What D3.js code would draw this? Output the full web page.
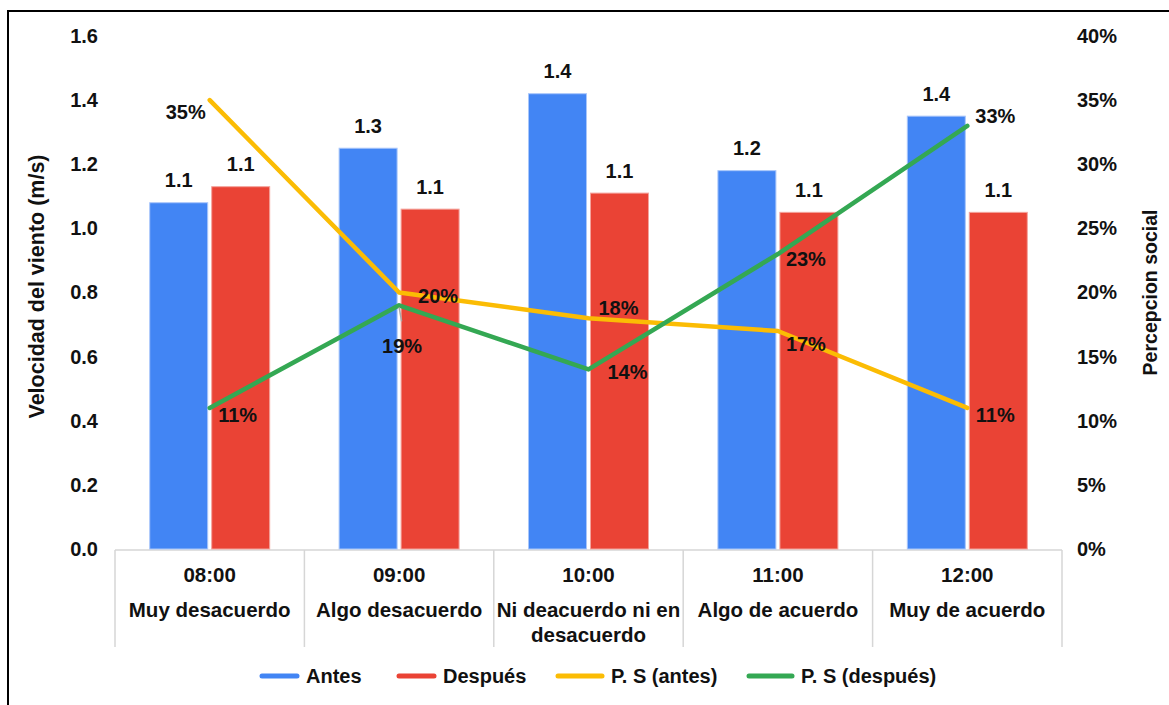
<!DOCTYPE html>
<html>
<head>
<meta charset="utf-8">
<script src="https://cdn.jsdelivr.net/npm/d3@7"></script>
<style>
  html, body { margin: 0; padding: 0; background: #fff; }
  svg { display: block; font-family: "Liberation Sans", Arial, sans-serif; }
</style>
</head>
<body>
<svg id="chart" width="1169" height="705"></svg>
<script>
// Hours and the perception category measured at each hour
const categories = ["08:00", "09:00", "10:00", "11:00", "12:00"];
const categoryLabels = [
  ["Muy desacuerdo"],
  ["Algo desacuerdo"],
  ["Ni deacuerdo ni en", "desacuerdo"],
  ["Algo de acuerdo"],
  ["Muy de acuerdo"]
];

// Wind speed (m/s)
const antes = [1.08, 1.25, 1.42, 1.18, 1.35];
const despues = [1.13, 1.06, 1.11, 1.05, 1.05];

// Social perception (share of respondents)
const psAntes = [0.35, 0.20, 0.18, 0.17, 0.11];
const psDespues = [0.11, 0.19, 0.14, 0.23, 0.33];

// Axis ticks
const leftTicks = [0, 0.2, 0.4, 0.6, 0.8, 1.0, 1.2, 1.4, 1.6];
const rightTicks = [0, 0.05, 0.10, 0.15, 0.20, 0.25, 0.30, 0.35, 0.40];

const seriesNames = ["Antes", "Después", "P. S (antes)", "P. S (después)"];
const colors = { blue: "#4285F4", red: "#EA4335", yellow: "#FBBC04", green: "#34A853" };

// Label nudges for the percentage labels (dx, dy from the point)
const antesLabelShift = [[-24, 12], [39, 3], [30, -10], [28, 13], [28, 7]];
const despuesLabelShift = [[28, 7], [3, 40], [39, 2], [28, 5], [28, -10]];

const svg = d3.select("#chart");
const plot = { left: 115, right: 1062, top: 36, bottom: 549 };

// Frame
svg.append("path")
  .attr("d", `M8,720 L8,11 L1180,11`)
  .attr("fill", "none").attr("stroke", "#000").attr("stroke-width", 2);

const x = d3.scaleBand().domain(categories).range([plot.left, plot.right]).padding(0);
const xs = d3.scaleBand().domain(["Antes", "Después"]).range([0, x.bandwidth()])
  .paddingInner(0.0645).paddingOuter(0.56);
const y = d3.scaleLinear().domain([0, 1.6]).range([plot.bottom, plot.top]);
const y2 = d3.scaleLinear().domain([0, 0.4]).range([plot.bottom, plot.top]);

// Axes (no domain line, no tick marks)
const gL = svg.append("g").attr("transform", `translate(${plot.left},0)`)
  .call(d3.axisLeft(y).tickValues(leftTicks).tickFormat(d3.format(".1f")).tickSize(0).tickPadding(17));
const gR = svg.append("g").attr("transform", `translate(${plot.right},0)`)
  .call(d3.axisRight(y2).tickValues(rightTicks).tickFormat(d3.format(".0%")).tickSize(0).tickPadding(15));
[gL, gR].forEach(g => {
  g.select(".domain").remove();
  g.selectAll("text").attr("font-size", 20).attr("font-weight", "bold").attr("fill", "#111")
    .attr("font-family", "'Liberation Sans', Arial, sans-serif");
});

// Axis titles
svg.append("text")
  .attr("transform", `translate(44,${(plot.top + plot.bottom) / 2 - 6}) rotate(-90)`)
  .attr("text-anchor", "middle").attr("font-size", 21.5).attr("font-weight", "bold").attr("fill", "#111")
  .text("Velocidad del viento (m/s)");
svg.append("text")
  .attr("transform", `translate(1157,${(plot.top + plot.bottom) / 2}) rotate(-90)`)
  .attr("text-anchor", "middle").attr("font-size", 19.5).attr("font-weight", "bold").attr("fill", "#111")
  .text("Percepcion social");

// Category table under the plot
const table = svg.append("g").attr("stroke", "#d6d6d6").attr("stroke-width", 1.5);
table.append("line").attr("x1", plot.left).attr("x2", plot.right)
  .attr("y1", plot.bottom + 1).attr("y2", plot.bottom + 1);
[...categories.map(c => x(c)), plot.right].forEach(px => {
  table.append("line").attr("x1", px).attr("x2", px).attr("y1", plot.bottom + 1).attr("y2", 647);
});
const catG = svg.append("g").attr("font-size", 20.5).attr("font-weight", "bold").attr("fill", "#111")
  .attr("text-anchor", "middle");
categories.forEach((c, i) => {
  const cx = x(c) + x.bandwidth() / 2;
  catG.append("text").attr("x", cx).attr("y", 575).attr("dy", "0.36em").text(c);
  categoryLabels[i].forEach((line, j) => {
    catG.append("text").attr("x", cx).attr("y", 610 + j * 25).attr("dy", "0.36em").text(line);
  });
});

// Bars
const barData = categories.map((c, i) => [
  { cat: c, key: "Antes", v: antes[i], color: colors.blue, edge: "#a9c6fa" },
  { cat: c, key: "Después", v: despues[i], color: colors.red, edge: "#f4a39c" }
]).flat();
svg.append("g").selectAll("rect").data(barData).join("rect")
  .attr("x", d => x(d.cat) + xs(d.key))
  .attr("y", d => y(d.v))
  .attr("width", xs.bandwidth())
  .attr("height", d => y(0) - y(d.v))
  .attr("fill", d => d.color)
  .attr("stroke", d => d.edge).attr("stroke-width", 1);
svg.append("g").selectAll("text").data(barData).join("text")
  .attr("x", d => x(d.cat) + xs(d.key) + xs.bandwidth() / 2)
  .attr("y", d => y(d.v) - 15.5)
  .attr("text-anchor", "middle").attr("font-size", 20).attr("font-weight", "bold").attr("fill", "#111")
  .text(d => d3.format(".1f")(d.v));

// Lines
const cx = c => x(c) + x.bandwidth() / 2;
const line = d3.line().x((d, i) => cx(categories[i])).y(d => y2(d));
svg.append("path").datum(psAntes).attr("d", line)
  .attr("fill", "none").attr("stroke", colors.yellow).attr("stroke-width", 4.5)
  .attr("stroke-linejoin", "round").attr("stroke-linecap", "round");
svg.append("path").datum(psDespues).attr("d", line)
  .attr("fill", "none").attr("stroke", colors.green).attr("stroke-width", 4.5)
  .attr("stroke-linejoin", "round").attr("stroke-linecap", "round");

// Leader line for the 19% label
svg.append("line")
  .attr("x1", cx(categories[1])).attr("y1", y2(psDespues[1]) + 2)
  .attr("x2", cx(categories[1]) + 2.5).attr("y2", y2(psDespues[1]) + 16)
  .attr("stroke", "#aaa").attr("stroke-width", 1.5);

// Percentage labels
const pctG = svg.append("g").attr("font-size", 20).attr("font-weight", "bold").attr("fill", "#111")
  .attr("text-anchor", "middle");
function pctLabels(values, shifts) {
  values.forEach((v, i) => {
    pctG.append("text")
      .attr("x", cx(categories[i]) + shifts[i][0])
      .attr("y", y2(v) + shifts[i][1])
      .attr("dy", "0.36em")
      .text(d3.format(".0%")(v));
  });
}
pctLabels(psAntes, antesLabelShift);
pctLabels(psDespues, despuesLabelShift);

// Legend
const legendItems = [
  { name: seriesNames[0], color: colors.blue, x: 260, len: 39 },
  { name: seriesNames[1], color: colors.red, x: 397, len: 39 },
  { name: seriesNames[2], color: colors.yellow, x: 556, len: 48 },
  { name: seriesNames[3], color: colors.green, x: 747, len: 47 }
];
const lg = svg.append("g");
legendItems.forEach(it => {
  lg.append("line").attr("x1", it.x + 2).attr("x2", it.x + it.len - 2)
    .attr("y1", 676).attr("y2", 676)
    .attr("stroke", it.color).attr("stroke-width", 5).attr("stroke-linecap", "round");
  lg.append("text").attr("x", it.x + it.len + 7).attr("y", 676).attr("dy", "0.36em")
    .attr("font-size", 20).attr("font-weight", "bold").attr("fill", "#111")
    .text(it.name);
});
</script>
</body>
</html>
